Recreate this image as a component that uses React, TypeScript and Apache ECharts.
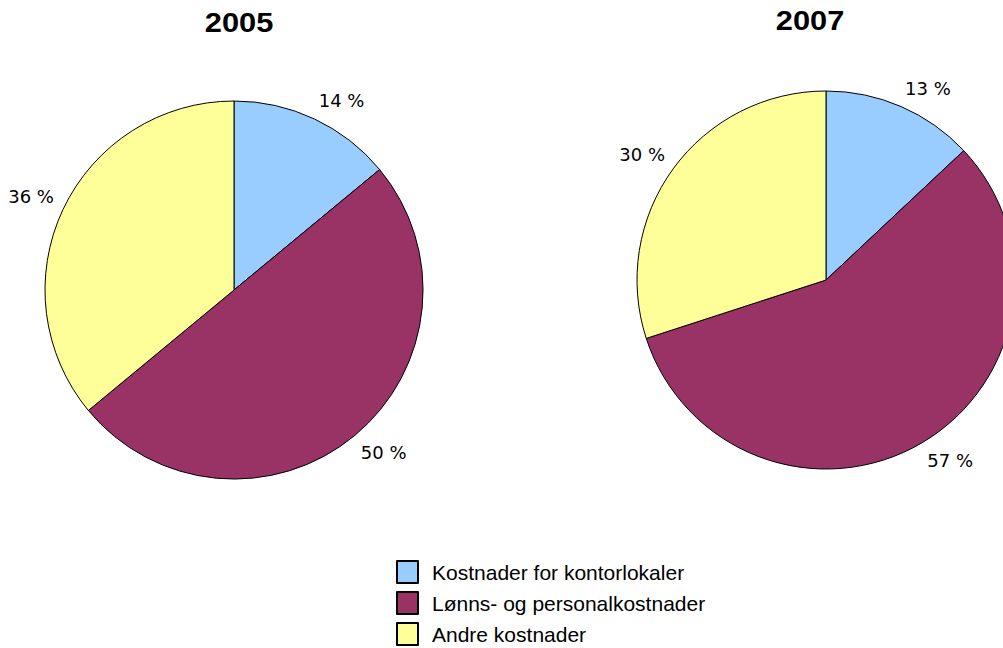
import React, { useEffect, useRef } from "react";
import * as echarts from "echarts";

const categories = ["Kostnader for kontorlokaler", "Lønns- og personalkostnader", "Andre kostnader"];
const years = ["2005", "2007"];
const values2005 = [14, 50, 36];
const values2007 = [13, 57, 30];
const colors = ["#99CCFF", "#993366", "#FFFF99"];

export default function App() {
  const ref = useRef<HTMLDivElement>(null);
  useEffect(() => {
    if (!ref.current) return;
    const chart = echarts.init(ref.current, null, { renderer: "svg" });
    const centers = [[234, 290], [826, 280]];
    const titlePos = [[239, 22], [810, 20]];
    const seriesValues = [values2005, values2007];
    const mkSeries = (i: number) => ({
      type: "pie",
      name: years[i],
      center: centers[i],
      radius: 189,
      startAngle: 90,
      clockwise: true,
      avoidLabelOverlap: false,
      itemStyle: { borderColor: "#000", borderWidth: 1 },
      emphasis: { disabled: true },
      label: {
        show: true,
        position: "outside",
        formatter: "{c} %",
        fontFamily: "DejaVu Sans",
        fontSize: 18,
        color: "#000",
        distanceToLabelLine: 0,
        padding: 0,
      },
      labelLine: { show: false, length: 10, length2: 0 },
      labelLayout: (p: any) => {
        const cy = centers[p.seriesIndex][1];
        const midY = p.labelRect.y + p.labelRect.height / 2;
        return { verticalAlign: midY < cy ? "bottom" : "top" };
      },
      data: categories.map((c, k) => ({ name: c, value: seriesValues[i][k] })),
    });
    chart.setOption({
      animation: false,
      color: colors,
      backgroundColor: "#fff",
      graphic: years.map((y, i) => ({
        type: "text",
        x: titlePos[i][0],
        y: titlePos[i][1],
        scaleX: 1.1,
        style: {
          text: y,
          fontFamily: "Liberation Sans, Arial, sans-serif",
          fontWeight: "bold",
          fontSize: 28,
          fill: "#000",
          textAlign: "center",
          textVerticalAlign: "middle",
        },
      })),
      legend: {
        orient: "vertical",
        left: 396,
        top: 555.5,
        height: 200,
        padding: 0,
        itemWidth: 21,
        itemHeight: 22,
        itemGap: -2,
        icon: "rect",
        selectedMode: false,
        data: categories,
        textStyle: {
          fontFamily: "Liberation Sans, Arial, sans-serif",
          fontSize: 21,
          color: "#000",
          padding: [12, 0, 0, 9],
          lineHeight: 21,
        },
      },
      series: [mkSeries(0), mkSeries(1)],
    });
    return () => chart.dispose();
  }, []);
  return (
    <div
      ref={ref}
      style={{ position: "fixed", left: 0, top: 0, width: 1003, height: 648, background: "#fff" }}
    />
  );
}
